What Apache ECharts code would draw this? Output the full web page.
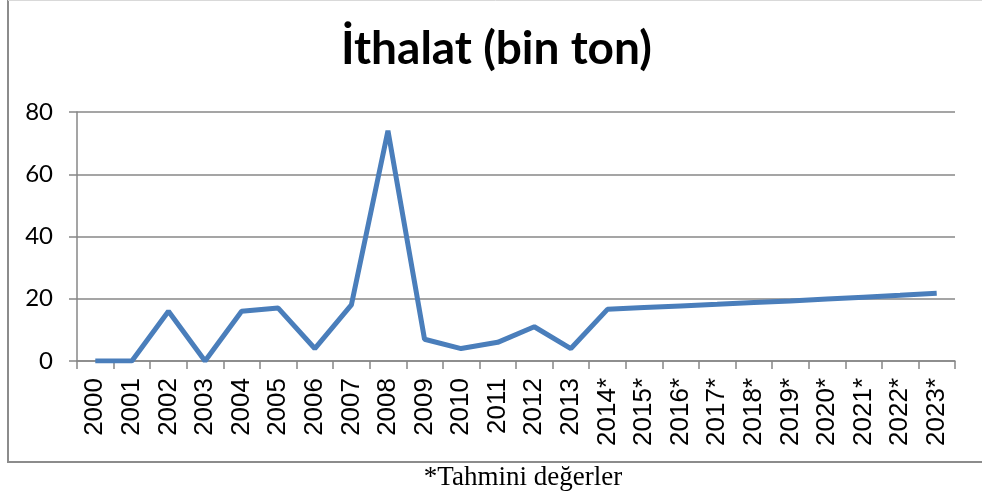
<!DOCTYPE html>
<html>
<head>
<meta charset="utf-8">
<script src="https://cdn.jsdelivr.net/npm/echarts@6/dist/echarts.min.js"></script>
<style>
  html, body { margin: 0; padding: 0; background: #fff; }
  #chart { width: 982px; height: 499px; }
</style>
</head>
<body>
<div id="chart"></div>
<script>
// years, * = estimated
const years = ['2000', '2001', '2002', '2003', '2004', '2005', '2006', '2007', '2008', '2009',
    '2010', '2011', '2012', '2013', '2014*', '2015*', '2016*', '2017*', '2018*', '2019*',
    '2020*', '2021*', '2022*', '2023*'];
const imports = [0, 0, 16, 0, 16, 17, 4, 18, 74, 7,
    4, 6, 11, 4, 16.6, 17.2, 17.7, 18.2, 18.8, 19.3,
    19.9, 20.5, 21.1, 21.8];
const yTicks = [0, 20, 40, 60, 80];

const myChart = echarts.init(document.getElementById('chart'));

const gray = '#878787';

const option = {
    animation: false,
    title: {
        text: 'İthalat (bin ton)',
        left: 336,
        top: 21,
        textStyle: {
            fontFamily: 'Lato',
            fontWeight: 'bold',
            fontSize: 46,
            color: '#000'
        }
    },
    graphic: [
        {
            // frame: left + bottom darker, top faint
            type: 'polyline',
            shape: { points: [[8, 0], [8, 462], [990, 462]] },
            style: { fill: 'none', stroke: '#8c8c8c', lineWidth: 2 }
        },
        {
            type: 'line',
            shape: { x1: 8, y1: 0.5, x2: 990, y2: 0.5 },
            style: { stroke: '#d9d9d9', lineWidth: 1 }
        },
        {
            type: 'text',
            x: 523,
            y: 464,
            style: {
                text: '*Tahmini değerler',
                align: 'center',
                font: '27px "Liberation Serif"',
                fill: '#000'
            }
        }
    ],
    grid: {
        left: 77,
        right: 27,
        top: 112,
        bottom: 138
    },
    xAxis: {
        type: 'category',
        data: years,
        boundaryGap: true,
        axisLine: { lineStyle: { color: gray, width: 1.5 } },
        axisTick: { show: true, length: 8, lineStyle: { color: gray, width: 1.5 } },
        axisLabel: {
            rotate: 90,
            margin: 17,
            interval: 0,
            fontFamily: 'Arial',
            fontSize: 26,
            color: '#000'
        }
    },
    yAxis: {
        type: 'value',
        min: yTicks[0],
        max: yTicks[yTicks.length - 1],
        interval: 20,
        axisLine: { show: true, lineStyle: { color: gray, width: 1.5 } },
        axisTick: { show: true, length: 8, lineStyle: { color: gray, width: 1.5 } },
        splitLine: { lineStyle: { color: gray, width: 1.5 } },
        axisLabel: {
            margin: 24,
            fontFamily: 'Lato',
            fontSize: 24,
            color: '#000'
        }
    },
    series: [{
        type: 'line',
        data: imports,
        symbol: 'none',
        lineStyle: { color: '#4a7ebb', width: 5 },
        z: 5
    }]
};

myChart.setOption(option);
</script>
</body>
</html>
